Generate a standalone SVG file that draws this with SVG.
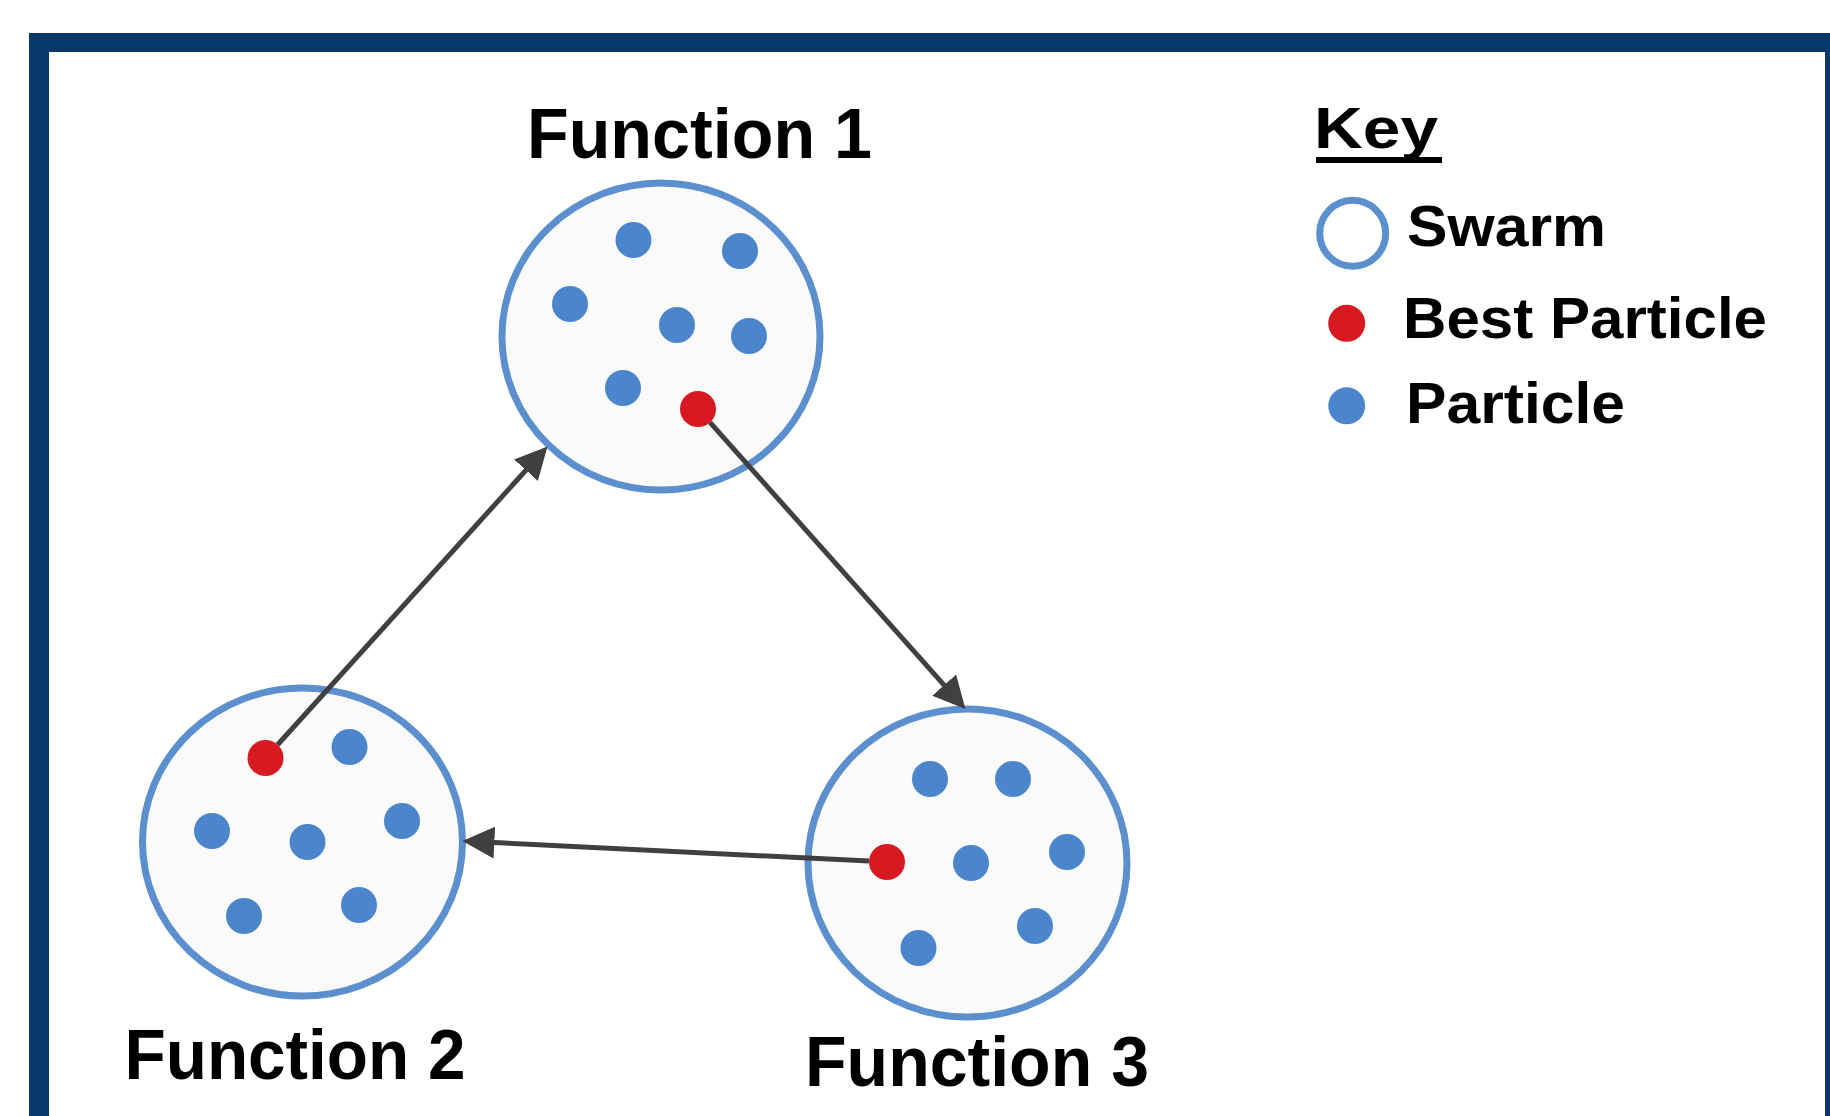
<svg xmlns="http://www.w3.org/2000/svg" width="1830" height="1116" viewBox="0 0 1830 1116">
<style>
.swarm{fill:#fafafa;stroke:#5b8fce;stroke-width:7}
.p{fill:#4b86cd}
.best{fill:#d71a21}
.lbl{font-family:"Liberation Sans",Arial,sans-serif;font-weight:bold;fill:#000}
.fn{font-size:70px}
.key{font-size:57px}
.conn{stroke:#404040;stroke-width:5;fill:none;marker-end:url(#ah)}
</style>
<defs>
<marker id="ah" markerUnits="userSpaceOnUse" markerWidth="32" markerHeight="32" viewBox="0 0 31 31" refX="11" refY="15.5" orient="auto">
<path d="M0,0 L31,15.5 L0,31 z" fill="#404040"/>
</marker>
</defs>
<rect x="0" y="0" width="1830" height="1116" fill="#ffffff"/>
<g id="frame">
<rect x="29" y="33" width="1801" height="1083" fill="#073869"/>
<rect x="49" y="52" width="1776" height="1064" fill="#ffffff"/>
</g>
<g id="function1">
<ellipse class="swarm" cx="661" cy="336.5" rx="159" ry="153.5"/>
<circle class="p" cx="633.5" cy="240" r="18"/>
<circle class="p" cx="740" cy="251" r="18"/>
<circle class="p" cx="570" cy="304" r="18"/>
<circle class="p" cx="677" cy="325" r="18"/>
<circle class="p" cx="749" cy="336" r="18"/>
<circle class="p" cx="623" cy="388" r="18"/>
<circle class="best" cx="698" cy="409" r="18"/>
<text class="lbl fn" x="527" y="158" textLength="345" lengthAdjust="spacingAndGlyphs">Function 1</text>
</g>
<g id="function2">
<ellipse class="swarm" cx="302.5" cy="842" rx="160" ry="154"/>
<circle class="best" cx="265.5" cy="758" r="18"/>
<circle class="p" cx="349.5" cy="747" r="18"/>
<circle class="p" cx="212" cy="831" r="18"/>
<circle class="p" cx="307.5" cy="842" r="18"/>
<circle class="p" cx="402" cy="821" r="18"/>
<circle class="p" cx="244" cy="916" r="18"/>
<circle class="p" cx="359" cy="905" r="18"/>
<text class="lbl fn" x="124.5" y="1079" textLength="341" lengthAdjust="spacingAndGlyphs">Function 2</text>
</g>
<g id="function3">
<ellipse class="swarm" cx="967.5" cy="863" rx="159.5" ry="154"/>
<circle class="p" cx="930" cy="779" r="18"/>
<circle class="p" cx="1013" cy="779" r="18"/>
<circle class="best" cx="887" cy="862" r="18"/>
<circle class="p" cx="971" cy="863" r="18"/>
<circle class="p" cx="1067" cy="852" r="18"/>
<circle class="p" cx="1035" cy="926" r="18"/>
<circle class="p" cx="918.5" cy="948" r="18"/>
<text class="lbl fn" x="805" y="1086" textLength="344" lengthAdjust="spacingAndGlyphs">Function 3</text>
</g>
<g id="connectors">
<line class="conn" x1="277.6" y1="744.7" x2="533.6" y2="461.8"/>
<line class="conn" x1="710" y1="422.4" x2="951.7" y2="693.6"/>
<line class="conn" x1="869" y1="861.1" x2="483" y2="842"/>
</g>
<g id="legend">
<text class="lbl" font-size="58" x="1314" y="148" textLength="124" lengthAdjust="spacingAndGlyphs">Key</text>
<rect x="1316" y="157" width="126" height="6" fill="#000"/>
<circle cx="1352.7" cy="233.3" r="33" fill="#ffffff" stroke="#5b8fce" stroke-width="7"/>
<text class="lbl key" x="1407" y="246" textLength="199" lengthAdjust="spacingAndGlyphs">Swarm</text>
<circle class="best" cx="1346.7" cy="323.3" r="18.5"/>
<text class="lbl key" x="1403" y="338" textLength="364" lengthAdjust="spacingAndGlyphs">Best Particle</text>
<circle class="p" cx="1346.7" cy="405.8" r="18.5"/>
<text class="lbl key" x="1406" y="423" textLength="219" lengthAdjust="spacingAndGlyphs">Particle</text>
</g>
</svg>
